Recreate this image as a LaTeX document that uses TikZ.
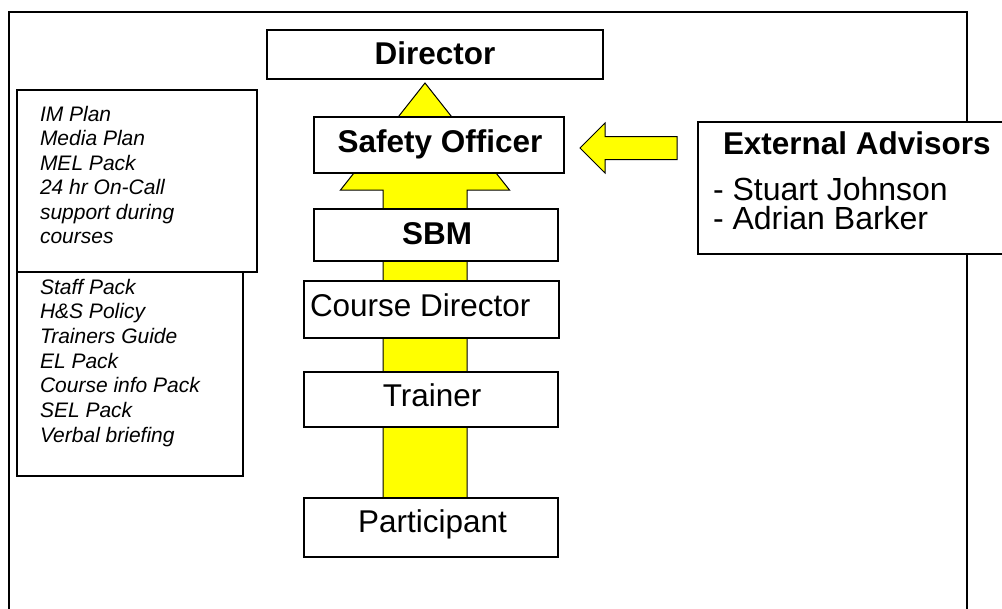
\documentclass[tikz,border=0pt]{standalone}
\usepackage{fontspec}
\setmainfont{Liberation Sans}
\newcommand{\rolefont}{\fontsize{23.6pt}{28pt}\selectfont}
\newcommand{\listfont}{\fontsize{15.75pt}{18.4pt}\selectfont\itshape}
\newcommand{\namefont}{\fontsize{24pt}{28pt}\selectfont}
\definecolor{arrowyellow}{RGB}{255,255,0}
\begin{document}
\begin{tikzpicture}[x=0.75pt,y=-0.75pt,
  box/.style={draw, line width=1pt, fill=white, inner sep=0pt, outer sep=0pt},
  txt/.style={inner sep=0pt, outer sep=0pt},
  flow/.style={draw=black, line width=0.75pt, fill=arrowyellow, line join=miter}]
\useasboundingbox (0,0) rectangle (1002,608);
\clip (0,0) rectangle (1002,608);

% outer frame (open at the bottom of the page)
\coordinate (fbl) at (9,640);
\coordinate (ftl) at (9,12);
\coordinate (ftr) at (967,12);
\coordinate (fbr) at (967,640);
\draw[line width=1pt] (fbl) -- (ftl) -- (ftr) -- (fbr);

% big upward arrow behind the chain of roles
\coordinate (sbl) at (383,498);
\coordinate (sbr) at (467,498);
\draw[flow] (sbl) -- (383,190) -- (340.5,190) -- (425,83) -- (509.5,190)
  -- (467,190) -- (sbr) -- cycle;

% chain of roles
\node[box, minimum width=252pt,   minimum height=36.75pt] (director)    at (435,54.5)  {};
\node[box, minimum width=187.5pt, minimum height=42pt]    (safety)      at (439,145)   {};
\node[box, minimum width=183pt,   minimum height=39pt]    (sbm)         at (436,235)   {};
\node[box, minimum width=191.25pt,minimum height=42.75pt] (coursedir)   at (431.5,309.5) {};
\node[box, minimum width=190.5pt, minimum height=41.25pt] (trainer)     at (431,399.5) {};
\node[box, minimum width=190.5pt, minimum height=44.25pt] (participant) at (431,527.5) {};

\node[txt, anchor=base] (director-t) at (435,64) {\rolefont\bfseries Director};
\node[txt, anchor=base] (safety-t) at (440,152) {\rolefont\bfseries Safety Officer};
\node[txt, anchor=base] (sbm-t) at (437,244) {\rolefont\bfseries SBM};
\node[txt, anchor=base west] (coursedir-t) at (310,316) {\rolefont Course Director};
\node[txt, anchor=base] (trainer-t) at (432,406) {\rolefont Trainer};
\node[txt, anchor=base] (participant-t) at (432.5,532) {\rolefont Participant};

% document lists on the left
\node[box, minimum width=180pt,   minimum height=136.5pt] (upperlist) at (137,181) {};
\node[box, minimum width=169.5pt, minimum height=153pt]   (lowerlist) at (130,374) {};
\foreach \t [count=\i] in {IM Plan, Media Plan, MEL Pack, 24 hr On-Call,
    support during, courses}
  \node[txt, anchor=base west] (up-\i) at (40,{121+24.5*(\i-1)}) {\listfont \t};
\foreach \t [count=\i] in {Staff Pack, H\&S Policy, Trainers Guide, EL Pack,
    Course info Pack, SEL Pack, Verbal briefing}
  \node[txt, anchor=base west] (low-\i) at (40,{294+24.7*(\i-1)}) {\listfont \t};

% external advisors feeding into the safety officer
\coordinate (ltip) at (580,148);
\draw[flow] (ltip) -- (605,123) -- (605,136.5) -- (677,136.5) -- (677,159.5)
  -- (605,159.5) -- (605,173) -- cycle;
\node[box, minimum width=234pt, minimum height=99pt] (external) at (854,188) {};
\node[txt, anchor=base west] (external-t) at (723,154) {\rolefont\bfseries External Advisors};
\node[txt, anchor=base west] (adv-1) at (713,200) {\namefont - Stuart Johnson};
\node[txt, anchor=base west] (adv-2) at (713,229) {\namefont - Adrian Barker};
\end{tikzpicture}
\end{document}
